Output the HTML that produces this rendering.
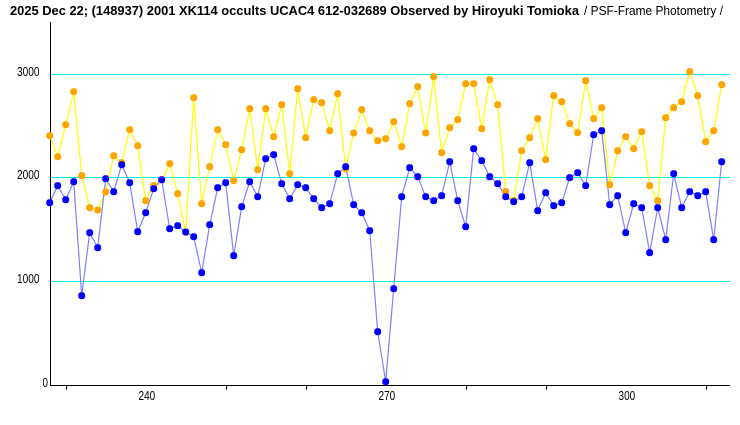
<!DOCTYPE html>
<html>
<head>
<meta charset="utf-8">
<style>
html,body{margin:0;padding:0;background:#fff;}
svg{display:block;}
text{font-family:"Liberation Sans","Noto Sans CJK JP",sans-serif;fill:#000;}
</style>
</head>
<body>
<svg width="740" height="425" viewBox="0 0 740 425" xmlns="http://www.w3.org/2000/svg">
<defs>
<marker id="mo" markerUnits="userSpaceOnUse" markerWidth="8" markerHeight="8" refX="4" refY="4" overflow="visible">
<polygon points="2.3,0.6 5.7,0.6 7.4,2.3 7.4,5.7 5.7,7.4 2.3,7.4 0.6,5.7 0.6,2.3" fill="#FFA500"/>
</marker>
<marker id="mb" markerUnits="userSpaceOnUse" markerWidth="8" markerHeight="8" refX="4" refY="4" overflow="visible">
<polygon points="2.3,0.6 5.7,0.6 7.4,2.3 7.4,5.7 5.7,7.4 2.3,7.4 0.6,5.7 0.6,2.3" fill="#0000FF"/>
</marker>
</defs>

<!-- title -->
<text x="10" y="15" font-size="13" font-weight="bold" textLength="569" lengthAdjust="spacingAndGlyphs">2025 Dec 22; (148937) 2001 XK114 occults UCAC4 612-032689 Observed by Hiroyuki Tomioka</text>
<text x="584" y="15" font-size="13" textLength="139" lengthAdjust="spacingAndGlyphs">/ PSF-Frame Photometry /</text>

<!-- grid lines -->
<line x1="51" y1="74.5" x2="730" y2="74.5" stroke="#00F0F0" stroke-width="1"/>
<line x1="51" y1="177.5" x2="730" y2="177.5" stroke="#00F0F0" stroke-width="1"/>
<line x1="51" y1="281.5" x2="730" y2="281.5" stroke="#00F0F0" stroke-width="1"/>

<!-- axes -->
<line x1="50.5" y1="22" x2="50.5" y2="386" stroke="#000" stroke-width="1"/>
<line x1="50" y1="385.5" x2="730" y2="385.5" stroke="#000" stroke-width="1"/>
<g stroke="#000" stroke-width="1">
<line x1="66.5" y1="385" x2="66.5" y2="389.5"/>
<line x1="226.5" y1="385" x2="226.5" y2="389.5"/>
<line x1="306.5" y1="385" x2="306.5" y2="389.5"/>
<line x1="466.5" y1="385" x2="466.5" y2="389.5"/>
<line x1="546.5" y1="385" x2="546.5" y2="389.5"/>
<line x1="706.5" y1="385" x2="706.5" y2="389.5"/>
</g>

<!-- y labels -->
<text x="17" y="76" font-size="12.5" textLength="22.5" lengthAdjust="spacingAndGlyphs">3000</text>
<text x="17" y="179" font-size="12.5" textLength="22.5" lengthAdjust="spacingAndGlyphs">2000</text>
<text x="17" y="283" font-size="12.5" textLength="22.5" lengthAdjust="spacingAndGlyphs">1000</text>
<text x="42.5" y="387" font-size="12.5" textLength="5.5" lengthAdjust="spacingAndGlyphs">0</text>

<!-- x labels -->
<text x="138.5" y="400" font-size="12.5" textLength="16.7" lengthAdjust="spacingAndGlyphs">240</text>
<text x="378.5" y="400" font-size="12.5" textLength="16.7" lengthAdjust="spacingAndGlyphs">270</text>
<text x="618.5" y="400" font-size="12.5" textLength="16.7" lengthAdjust="spacingAndGlyphs">300</text>

<g transform="translate(49.7,0)">
<!-- yellow line -->
<polyline fill="none" stroke="#FFFF00" stroke-width="1.2" points="0,135.7 8,156.7 16,124.7 24,91.7 32,175.7 40,207.7 48,210 56,192 64,155.7 72,162.7 80,129.7 88,145.7 96,200.7 104,185.7 112,180 120,163.7 128,193.7 136,232.3 144,97.7 152,203.7 160,166.7 168,129.7 176,144.7 184,180.7 192,149.7 200,108.7 208,169.7 216,108.7 224,136.7 232,104.7 240,173.7 248,88.7 256,137.7 264,99.7 272,102.7 280,130.7 288,93.7 296,168.7 304,133 312,109.7 320,130.7 328,140.7 336,138.7 344,121.7 352,146.7 360,103.7 368,86.7 376,133 384,76.7 392,152.7 400,127.7 408,119.7 416,83.7 424,83.7 432,128.7 440,79.7 448,104.7 456,191.7 464,200.7 472,150.7 480,137.7 488,118.7 496,159.7 504,95.7 512,101.7 520,123.7 528,132.7 536,80.7 544,118.7 552,107.7 560,184.7 568,150.7 576,136.7 584,148.7 592,131.7 600,185.7 608,200.7 616,117.7 624,107.7 632,101.7 640,71.7 648,95.7 656,141.7 664,130.7 672,84.7"/>
<!-- blue line -->
<polyline fill="none" stroke="#8080FF" stroke-width="1.2" points="0,202.7 8,185.7 16,199.7 24,181.7 32,295.7 40,232.7 48,247.7 56,178.7 64,191.7 72,164.7 80,182.7 88,231.7 96,212.7 104,188.7 112,179.7 120,228.7 128,225.7 136,232 144,236.7 152,272.7 160,224.7 168,187.7 176,182.7 184,255.7 192,206.7 200,181.7 208,196.7 216,158.7 224,154.7 232,183.7 240,198.7 248,184.7 256,187.7 264,198.7 272,207.7 280,203.7 288,173.7 296,166.7 304,204.7 312,212.7 320,230.7 328,331.7 336,381.7 344,288.7 352,196.7 360,167.7 368,176.7 376,196.7 384,200.7 392,195.7 400,161.7 408,200.7 416,226.7 424,148.7 432,160.7 440,176.7 448,183.7 456,196.7 464,201.7 472,196.7 480,162.7 488,210.7 496,192.7 504,205.7 512,202.7 520,177.7 528,172.7 536,185.7 544,134.7 552,130.7 560,204.7 568,195.7 576,232.7 584,203.7 592,207.7 600,252.7 608,207.7 616,239.7 624,173.7 632,207.7 640,191.7 648,195.7 656,191.7 664,239.7 672,161.7"/>
<!-- orange markers -->
<polyline fill="none" stroke="none" marker-start="url(#mo)" marker-mid="url(#mo)" marker-end="url(#mo)" points="0,135.7 8,156.7 16,124.7 24,91.7 32,175.7 40,207.7 48,210 56,192 64,155.7 72,162.7 80,129.7 88,145.7 96,200.7 104,185.7 112,180 120,163.7 128,193.7 136,232.3 144,97.7 152,203.7 160,166.7 168,129.7 176,144.7 184,180.7 192,149.7 200,108.7 208,169.7 216,108.7 224,136.7 232,104.7 240,173.7 248,88.7 256,137.7 264,99.7 272,102.7 280,130.7 288,93.7 296,168.7 304,133 312,109.7 320,130.7 328,140.7 336,138.7 344,121.7 352,146.7 360,103.7 368,86.7 376,133 384,76.7 392,152.7 400,127.7 408,119.7 416,83.7 424,83.7 432,128.7 440,79.7 448,104.7 456,191.7 464,200.7 472,150.7 480,137.7 488,118.7 496,159.7 504,95.7 512,101.7 520,123.7 528,132.7 536,80.7 544,118.7 552,107.7 560,184.7 568,150.7 576,136.7 584,148.7 592,131.7 600,185.7 608,200.7 616,117.7 624,107.7 632,101.7 640,71.7 648,95.7 656,141.7 664,130.7 672,84.7"/>
<!-- blue markers -->
<polyline fill="none" stroke="none" marker-start="url(#mb)" marker-mid="url(#mb)" marker-end="url(#mb)" points="0,202.7 8,185.7 16,199.7 24,181.7 32,295.7 40,232.7 48,247.7 56,178.7 64,191.7 72,164.7 80,182.7 88,231.7 96,212.7 104,188.7 112,179.7 120,228.7 128,225.7 136,232 144,236.7 152,272.7 160,224.7 168,187.7 176,182.7 184,255.7 192,206.7 200,181.7 208,196.7 216,158.7 224,154.7 232,183.7 240,198.7 248,184.7 256,187.7 264,198.7 272,207.7 280,203.7 288,173.7 296,166.7 304,204.7 312,212.7 320,230.7 328,331.7 336,381.7 344,288.7 352,196.7 360,167.7 368,176.7 376,196.7 384,200.7 392,195.7 400,161.7 408,200.7 416,226.7 424,148.7 432,160.7 440,176.7 448,183.7 456,196.7 464,201.7 472,196.7 480,162.7 488,210.7 496,192.7 504,205.7 512,202.7 520,177.7 528,172.7 536,185.7 544,134.7 552,130.7 560,204.7 568,195.7 576,232.7 584,203.7 592,207.7 600,252.7 608,207.7 616,239.7 624,173.7 632,207.7 640,191.7 648,195.7 656,191.7 664,239.7 672,161.7"/>
</g>
</svg>
</body>
</html>
